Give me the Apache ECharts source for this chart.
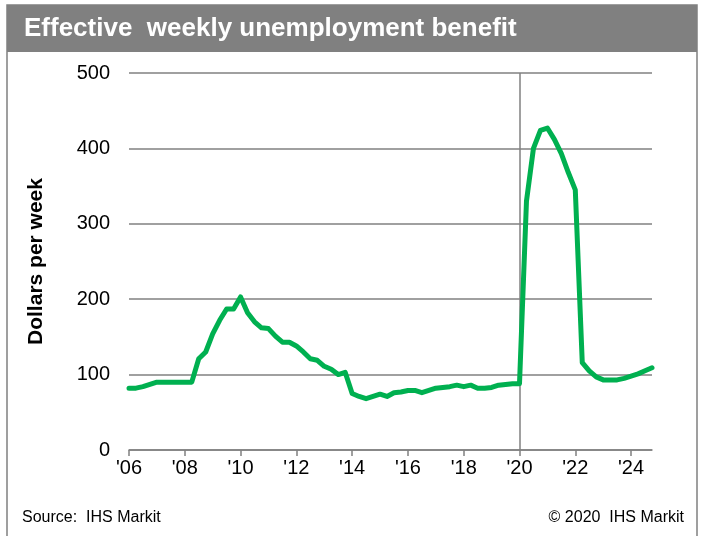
<!DOCTYPE html>
<html>
<head>
<meta charset="utf-8">
<script src="https://cdn.jsdelivr.net/npm/echarts@6/dist/echarts.min.js"></script>
<style>
  html, body { margin: 0; padding: 0; background: #fff; }
  #chart { width: 701px; height: 536px; }
</style>
</head>
<body>
<div id="chart"></div>
<script>
// Quarterly periods, 2006Q1 .. 2024Q4
const quarters = [];
for (let y = 2006; y <= 2024; y++) {
  for (let q = 1; q <= 4; q++) quarters.push(y + 'Q' + q);
}

// Effective weekly unemployment benefit, dollars per week
const benefit = [
  82, 82, 84, 87, 90, 90, 90, 90,          // 2006-2007
  90, 90, 121, 130, 154, 172, 187, 187,    // 2008-2009
  203, 182, 170, 162, 161, 151, 143, 143,  // 2010-2011
  138, 130, 121, 119, 111, 107, 100, 103,  // 2012-2013
  75, 71, 68, 71, 74, 71, 76, 77,          // 2014-2015
  79, 79, 76, 79, 82, 83, 84, 86,          // 2016-2017
  84, 86, 82, 82, 83, 86, 87, 88,          // 2018-2019
  88, 330, 400, 424, 427, 412, 393, 368,   // 2020-2021
  345, 116, 105, 97, 93, 93, 93, 95,       // 2022-2023
  98, 101, 105, 109                        // 2024
];

const yTicks = { min: 0, max: 500, step: 100 };
const markerPeriod = '2020Q1';

const titleText = 'Effective  weekly unemployment benefit';
const yAxisTitle = 'Dollars per week';
const sourceText = 'Source:  IHS Markit';
const copyrightText = '\u00A9 2020  IHS Markit';

const GRID_GRAY = '#808080';
const LINE_GREEN = '#00B050';
const FONT = 'Liberation Sans, Arial, sans-serif';

const chart = echarts.init(document.getElementById('chart'), null, { renderer: 'canvas' });

chart.setOption({
  backgroundColor: '#ffffff',
  animation: false,
  grid: { left: 129, right: 49, top: 73, bottom: 86, containLabel: false },
  xAxis: {
    type: 'category',
    data: quarters,
    boundaryGap: false,
    axisLine: { show: true, lineStyle: { color: GRID_GRAY, width: 1.5 } },
    axisTick: { show: true, interval: 7, length: 6, inside: false, lineStyle: { color: GRID_GRAY, width: 1.5 } },
    axisLabel: {
      interval: 7,
      color: '#000',
      fontFamily: FONT,
      fontSize: 20,
      margin: 8,
      formatter: v => "'" + v.slice(2, 4)
    },
    splitLine: { show: false }
  },
  yAxis: {
    type: 'value',
    min: yTicks.min,
    max: yTicks.max,
    interval: yTicks.step,
    name: yAxisTitle,
    nameLocation: 'middle',
    nameRotate: 90,
    nameGap: 82,
    nameTextStyle: { color: '#000', fontFamily: FONT, fontSize: 21, fontWeight: 'bold' },
    axisLine: { show: false },
    axisTick: { show: false },
    axisLabel: { color: '#000', fontFamily: FONT, fontSize: 20, margin: 19 },
    splitLine: { show: true, lineStyle: { color: GRID_GRAY, width: 1.5 } }
  },
  series: [{
    type: 'line',
    data: benefit,
    symbol: 'none',
    smooth: false,
    lineStyle: { color: LINE_GREEN, width: 5, join: 'round', cap: 'round' },
    z: 3,
    markLine: {
      silent: true,
      symbol: 'none',
      label: { show: false },
      lineStyle: { color: GRID_GRAY, width: 1.5, type: 'solid' },
      data: [{ xAxis: markerPeriod }],
      z: 1
    }
  }],
  graphic: [
    {
      type: 'rect',
      shape: { x: 7, y: 5, width: 690, height: 560 },
      style: { fill: 'none', stroke: GRID_GRAY, lineWidth: 1.5 },
      silent: true
    },
    {
      type: 'rect',
      shape: { x: 7, y: 5, width: 690, height: 47 },
      style: { fill: GRID_GRAY },
      silent: true
    },
    {
      type: 'text',
      left: 24,
      top: 16,
      style: {
        text: titleText,
        fill: '#ffffff',
        font: 'bold 26px ' + FONT
      },
      silent: true
    },
    {
      type: 'text',
      left: 22,
      top: 510,
      style: { text: sourceText, fill: '#000', font: '16px ' + FONT },
      silent: true
    },
    {
      type: 'text',
      right: 17,
      top: 510,
      style: { text: copyrightText, fill: '#000', font: '16px ' + FONT },
      silent: true
    }
  ]
});
</script>
</body>
</html>
